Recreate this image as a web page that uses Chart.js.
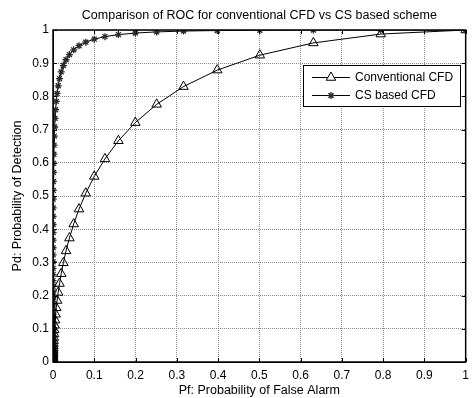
<!DOCTYPE html>
<html>
<head>
<meta charset="utf-8">
<script src="https://cdn.jsdelivr.net/npm/chart.js@4.4.0/dist/chart.umd.min.js"></script>
<style>
  html, body { margin: 0; padding: 0; background: #fff; }
  #myChart { display: block; }
</style>
</head>
<body>
<canvas id="myChart" width="475" height="398"></canvas>
<script>
// Pf: probability of false alarm (same grid for both curves)
var pf = [
	1, 0.7943, 0.631, 0.5012, 0.3981, 0.3162, 0.2512, 0.1995, 0.1585, 0.1259,
	0.1, 0.07943, 0.0631, 0.05012, 0.03981, 0.03162, 0.02512, 0.01995, 0.01585, 0.01259,
	0.01, 7.943e-3, 6.31e-3, 5.012e-3, 3.981e-3, 3.162e-3, 2.512e-3, 1.995e-3, 1.585e-3, 1.259e-3,
	1e-3, 7.943e-4, 6.31e-4, 5.012e-4, 3.981e-4, 3.162e-4, 2.512e-4, 1.995e-4, 1.585e-4, 1.259e-4,
	1e-4, 7.943e-5, 6.31e-5, 5.012e-5, 3.981e-5, 3.162e-5, 2.512e-5, 1.995e-5, 1.585e-5, 1.259e-5,
	1e-5, 7.943e-6, 6.31e-6, 5.012e-6, 3.981e-6, 3.162e-6, 2.512e-6, 1.995e-6, 1.585e-6, 1.259e-6,
	1e-6, 7.943e-7, 6.31e-7, 5.012e-7, 3.981e-7, 3.162e-7, 2.512e-7, 1.995e-7, 1.585e-7, 1.259e-7,
	1e-7, 7.943e-8, 6.31e-8, 5.012e-8, 3.981e-8, 3.162e-8, 2.512e-8, 1.995e-8, 1.585e-8, 1.259e-8,
	1e-8
];

var pdConventional = [
	1, 0.9878, 0.9611, 0.9241, 0.8792, 0.8295, 0.7761, 0.7211, 0.6664, 0.6118,
	0.559, 0.5084, 0.4606, 0.4157, 0.3733, 0.3347, 0.2988, 0.266, 0.2364, 0.2095,
	0.1851, 0.1633, 0.1437, 0.1261, 0.1107, 0.0966, 0.0844, 0.0737, 0.0641, 0.0558,
	0.0485, 0.042, 0.0364, 0.0314, 0.0272, 0.0235, 0.0202, 0.0174, 0.015, 0.0129,
	0.011, 0.0095, 0.0081, 0.0069, 0.006, 0.0051, 0.0043, 0.0037, 0.0032, 0.0027,
	0.0023, 0.002, 0.0017, 0.0014, 0.0012, 0.001, 0.0009, 0.0007, 0.0006, 0.0005,
	0.0004, 0.0004, 0.0003, 0.0003, 0.0002, 0.0002, 0.0002, 0.0001, 0.0001, 0.0001,
	0.0001, 0.0001, 0.0001, 0, 0, 0, 0, 0, 0, 0,
	0
];

var pdCS = [
	1, 1, 0.9998, 0.9993, 0.9984, 0.9968, 0.9943, 0.9908, 0.9861, 0.98,
	0.9725, 0.9634, 0.9527, 0.9403, 0.926, 0.9104, 0.8929, 0.8739, 0.8536, 0.832,
	0.809, 0.7849, 0.7599, 0.734, 0.7078, 0.6805, 0.6532, 0.6259, 0.5983, 0.571,
	0.5438, 0.5168, 0.4904, 0.4641, 0.4388, 0.4141, 0.3897, 0.3669, 0.3442, 0.3228,
	0.3019, 0.2823, 0.2634, 0.2451, 0.2281, 0.2119, 0.1966, 0.1822, 0.1685, 0.1555,
	0.1434, 0.1324, 0.1218, 0.112, 0.1029, 0.0944, 0.0864, 0.0791, 0.0724, 0.0662,
	0.0602, 0.0548, 0.05, 0.0455, 0.0413, 0.0375, 0.034, 0.0308, 0.0279, 0.0252,
	0.0228, 0.0206, 0.0186, 0.0168, 0.0151, 0.0136, 0.0123, 0.011, 0.0099, 0.0089,
	0.0079
];

var seriesNames = ["Conventional CFD", "CS based CFD"];
var tickValues = [0, 0.1, 0.2, 0.3, 0.4, 0.5, 0.6, 0.7, 0.8, 0.9, 1];
var tickLabels = ["0", "0.1", "0.2", "0.3", "0.4", "0.5", "0.6", "0.7", "0.8", "0.9", "1"];

var FONT = "'Liberation Sans', Arial, sans-serif";

function toPoints(xs, ys) {
	var pts = [];
	for (var i = 0; i < xs.length; i++) {
		pts.push({ x: xs[i], y: ys[i] });
	}
	return pts;
}

function tickLabel(value) {
	for (var i = 0; i < tickValues.length; i++) {
		if (Math.abs(tickValues[i] - value) < 1e-6) return tickLabels[i];
	}
	return "";
}

// matlab style box, inward ticks and the boxed legend
var matlabFrame = {
	id: "matlabFrame",
	afterDatasetsDraw: function(chart) {
		var ctx = chart.ctx;
		var a = chart.chartArea;
		var xs = chart.scales.x;
		var ys = chart.scales.y;
		ctx.save();
		ctx.strokeStyle = "#000";
		ctx.lineWidth = 1;
		ctx.beginPath();
		for (var i = 0; i < tickValues.length; i++) {
			var px = Math.round(xs.getPixelForValue(tickValues[i])) + 0.5;
			ctx.moveTo(px, a.bottom);
			ctx.lineTo(px, a.bottom - 4);
			ctx.moveTo(px, a.top);
			ctx.lineTo(px, a.top + 4);
			var py = Math.round(ys.getPixelForValue(tickValues[i])) + 0.5;
			ctx.moveTo(a.left, py);
			ctx.lineTo(a.left + 4, py);
			ctx.moveTo(a.right, py);
			ctx.lineTo(a.right - 4, py);
		}
		ctx.stroke();
		ctx.lineWidth = 1.5;
		ctx.strokeRect(a.left, a.top, a.right - a.left, a.bottom - a.top);

		// legend
		var lx = 303.5, ly = 65.5, lw = 157, lh = 41;
		ctx.fillStyle = "#fff";
		ctx.fillRect(lx, ly, lw, lh);
		ctx.lineWidth = 1;
		ctx.strokeRect(lx, ly, lw, lh);
		var rows = [77, 95];
		ctx.font = "12px " + FONT;
		ctx.textBaseline = "middle";
		ctx.textAlign = "left";
		for (var j = 0; j < chart.data.datasets.length; j++) {
			var ds = chart.data.datasets[j];
			var y = rows[j];
			ctx.strokeStyle = ds.borderColor;
			ctx.lineWidth = 1;
			ctx.beginPath();
			ctx.moveTo(312, y + 0.5);
			ctx.lineTo(350, y + 0.5);
			ctx.stroke();
			ctx.fillStyle = ds.legendFill;
			ctx.strokeStyle = ds.pointBorderColor;
			ctx.lineWidth = ds.pointBorderWidth;
			Chart.helpers.drawPoint(ctx, {
				pointStyle: ds.pointStyle,
				radius: ds.pointRadius,
				rotation: 0,
				borderWidth: ds.pointBorderWidth
			}, 331, y + 0.5);
			ctx.fillStyle = "#000";
			ctx.fillText(ds.label, 355, y + 1);
		}
		ctx.restore();
	}
};

var ctx = document.getElementById("myChart");

var data = {
	datasets: [
		{
			label: seriesNames[0],
			data: toPoints(pf, pdConventional),
			borderColor: "#000",
			borderWidth: 1,
			backgroundColor: "rgba(0,0,0,0)",
			pointStyle: "triangle",
			pointRadius: 5.5,
			pointBorderWidth: 1,
			pointBorderColor: "#000",
			pointBackgroundColor: "rgba(0,0,0,0)",
			legendFill: "#fff",
			fill: false,
			tension: 0
		},
		{
			label: seriesNames[1],
			data: toPoints(pf, pdCS),
			borderColor: "#000",
			borderWidth: 1,
			backgroundColor: "rgba(0,0,0,0)",
			pointStyle: "star",
			pointRadius: 3.5,
			pointBorderWidth: 1.3,
			pointBorderColor: "#2a2a2a",
			pointBackgroundColor: "rgba(0,0,0,0)",
			legendFill: "#fff",
			fill: false,
			tension: 0
		}
	]
};

var myChart = new Chart(ctx, {
	type: "line",
	data: data,
	plugins: [matlabFrame],
	options: {
		responsive: false,
		animation: false,
		devicePixelRatio: 1,
		layout: { padding: { left: 0, right: 3, top: 0, bottom: 0 } },
		plugins: {
			legend: { display: false },
			tooltip: { enabled: false },
			title: {
				display: true,
				fullSize: false,
				text: "Comparison of ROC for conventional CFD vs CS based scheme",
				color: "#000",
				font: { family: FONT, size: 12.5, weight: "normal" },
				padding: { top: 8, bottom: 7 }
			}
		},
		scales: {
			x: {
				type: "linear",
				min: 0,
				max: 1,
				afterFit: function(s) { s.height = 36; },
				ticks: {
					stepSize: 0.1,
					padding: 6,
					color: "#000",
					maxRotation: 0,
					font: { family: FONT, size: 12 },
					callback: function(v) { return tickLabel(v); }
				},
				grid: { color: "#8a8a8a", drawTicks: false, lineWidth: 1 },
				border: { display: true, color: "#000", dash: [1, 1] },
				title: {
					display: true,
					text: "Pf: Probability of False Alarm",
					color: "#000",
					font: { family: FONT, size: 12.5 },
					padding: { top: 0, bottom: 0 }
				}
			},
			y: {
				type: "linear",
				min: 0,
				max: 1,
				afterFit: function(s) { s.width = 53; },
				ticks: {
					stepSize: 0.1,
					padding: 4,
					color: "#000",
					font: { family: FONT, size: 12 },
					callback: function(v) { return tickLabel(v); }
				},
				grid: { color: "#8a8a8a", drawTicks: false, lineWidth: 1 },
				border: { display: true, color: "#000", dash: [1, 1] },
				title: {
					display: true,
					text: "Pd: Probability of Detection",
					color: "#000",
					font: { family: FONT, size: 12.5 },
					padding: { top: 10, bottom: 0 }
				}
			}
		}
	}
});
</script>
</body>
</html>
